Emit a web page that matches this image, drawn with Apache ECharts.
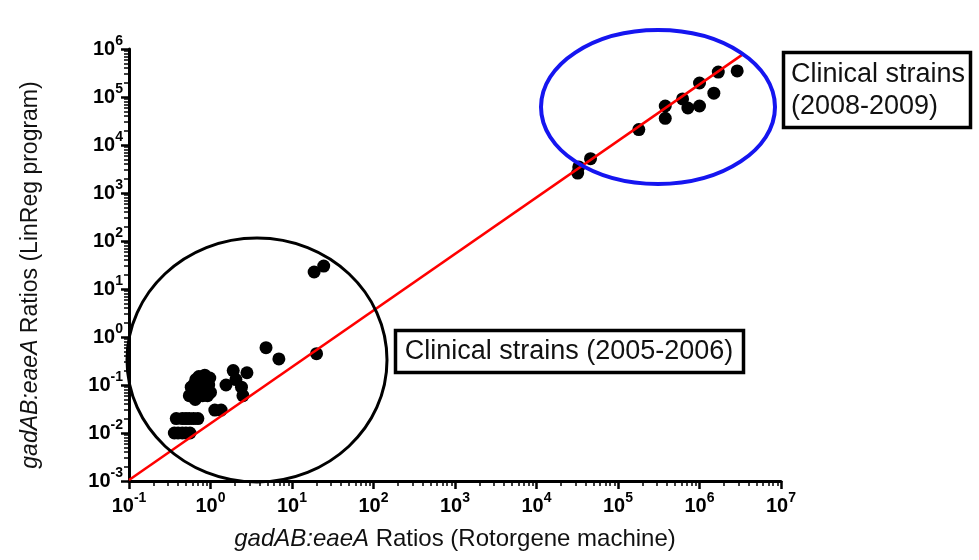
<!DOCTYPE html>
<html>
<head>
<meta charset="utf-8">
<script src="https://cdn.jsdelivr.net/npm/echarts@6/dist/echarts.min.js"></script>
<style>
html,body{margin:0;padding:0;background:#fff;}
#chart{width:979px;height:560px;}
</style>
</head>
<body>
<div id="chart"></div>
<script>
// ---- data ----
// Clinical strains 2005-2006 (lower cluster)
const lowX = [0.36,0.40,0.45,0.50,0.56,
              0.38,0.45,0.50,0.55,0.62,0.70,
              1.13,1.35,
              0.55,0.60,0.62,0.65,0.70,0.70,0.72,0.75,0.78,0.80,0.82,0.85,0.88,0.90,0.95,0.98,1.00,0.66,0.58,0.92,
              1.9,2.8,1.55,2.05,2.4,2.5,4.8,6.9,20,18.7,24.5];
const lowY = [0.01,0.01,0.01,0.01,0.01,
              0.02,0.02,0.02,0.02,0.02,0.02,
              0.03,0.03,
              0.06,0.08,0.10,0.05,0.12,0.07,0.15,0.09,0.13,0.06,0.10,0.16,0.08,0.12,0.10,0.14,0.07,0.13,0.09,0.06,
              0.20,0.18,0.10,0.13,0.09,0.06,0.60,0.35,0.45,22.6,30];
// Clinical strains 2008-2009 (upper cluster)
const highX = [3.2e4,3.3e4,4.6e4,1.8e5,3.8e5,3.8e5,6.2e5,7.2e5,1.0e6,1.0e6,1.5e6,1.7e6,2.9e6];
const highY = [2.6e3,3.5e3,5.2e3,2.1e4,6.5e4,3.6e4,9.1e4,5.9e4,6.5e4,1.96e5,1.2e5,3.3e5,3.5e5];
// regression line end points
const fitX = [0.1, 3.5e6];
const fitY = [0.00105, 8.0e5];
// tick labels (powers of ten)
const xTickExps = [-1,0,1,2,3,4,5,6,7];
const yTickExps = [-3,-2,-1,0,1,2,3,4,5,6];
const minorMult = [2,3,4,5,6,7,8,9];

const xTitle = '{i|gadAB:eaeA} Ratios (Rotorgene machine)';
const yTitle = '{i|gadAB:eaeA} Ratios (LinReg program)';
const note1 = 'Clinical strains (2005-2006)';
const note2 = 'Clinical strains\n(2008-2009)';

// ---- build ----
const FONT = 'Liberation Sans, Arial, Helvetica, sans-serif';
const zip = (a, b) => a.map((v, i) => [v, b[i]]);
const majors = e => e.map(ex => Math.pow(10, ex));
function minors(exps) {
  const out = [];
  for (let k = 0; k < exps.length - 1; k++) {
    for (const m of minorMult) out.push(m * Math.pow(10, exps[k]));
  }
  return out;
}
const expLabel = v => '{b|10}{s|' + Math.round(Math.log10(v)) + '}';
const labelRich = {
  b: {fontFamily: FONT, fontSize: 20, fontWeight: 'bold', color: '#000', lineHeight: 30},
  s: {fontFamily: FONT, fontSize: 14, fontWeight: 'bold', color: '#000', verticalAlign: 'top', lineHeight: 10}
};

function makeAxis(kind, exps, main) {
  const ax = {
    type: 'log', logBase: 10,
    position: kind === 'x' ? 'bottom' : 'left',
    offset: 0,
    min: Math.pow(10, exps[0]), max: Math.pow(10, exps[exps.length - 1]),
    splitLine: {show: false},
    axisLine: {show: main, lineStyle: {color: '#000', width: 3}},
    axisTick: {
      show: true, inside: false,
      length: main ? 8 : 5,
      lineStyle: {color: '#000', width: main ? 2.5 : 1.5},
      customValues: main ? majors(exps) : minors(exps)
    },
    axisLabel: main ? {
      show: true, customValues: majors(exps), formatter: expLabel,
      rich: labelRich, margin: kind === 'x' ? 10 : 6
    } : {show: false}
  };
  if (main) {
    const fs = kind === 'x' ? 24 : 23;
    ax.name = kind === 'x' ? xTitle : yTitle;
    ax.nameLocation = 'middle';
    ax.nameGap = kind === 'x' ? 46 : 87;
    ax.nameTextStyle = {
      fontFamily: FONT, fontSize: fs, color: '#111',
      padding: kind === 'x' ? 0 : [0, 20, 0, 0],
      rich: {i: {fontFamily: FONT, fontSize: fs, fontStyle: 'italic', color: '#111'}}
    };
  }
  return ax;
}

const chart = echarts.init(document.getElementById('chart'));
chart.setOption({
  animation: false,
  backgroundColor: '#fff',
  grid: {left: 129, right: 198, top: 49, bottom: 79, containLabel: false},
  xAxis: [makeAxis('x', xTickExps, true), makeAxis('x', xTickExps, false)],
  yAxis: [makeAxis('y', yTickExps, true), makeAxis('y', yTickExps, false)],
  series: [
    {type: 'scatter', name: '2005-2006', data: zip(lowX, lowY), symbol: 'circle', symbolSize: 13,
     itemStyle: {color: '#000', opacity: 1}, z: 3},
    {type: 'scatter', name: '2008-2009', data: zip(highX, highY), symbol: 'circle', symbolSize: 13,
     itemStyle: {color: '#000', opacity: 1}, z: 3},
    {type: 'line', name: 'fit', data: zip(fitX, fitY), showSymbol: false, symbol: 'none',
     lineStyle: {color: '#f00', width: 2.5}, z: 4}
  ],
  graphic: [
    {type: 'ellipse', shape: {cx: 257, cy: 360, rx: 130, ry: 122},
     style: {fill: 'none', stroke: '#000', lineWidth: 3}, z: 10},
    {type: 'ellipse', shape: {cx: 658, cy: 107, rx: 117, ry: 77},
     style: {fill: 'none', stroke: '#1515f0', lineWidth: 4}, z: 10},
    {type: 'rect', shape: {x: 395.5, y: 330.5, width: 348, height: 42},
     style: {fill: '#fff', stroke: '#000', lineWidth: 3.5}, z: 11},
    {type: 'text', x: 569, y: 352,
     style: {text: note1, fontFamily: FONT, fontSize: 27, fill: '#111', align: 'center', verticalAlign: 'middle'}, z: 12},
    {type: 'rect', shape: {x: 783.5, y: 52.5, width: 187, height: 75},
     style: {fill: '#fff', stroke: '#000', lineWidth: 3.5}, z: 11},
    {type: 'text', x: 791, y: 91,
     style: {text: note2, fontFamily: FONT, fontSize: 27, lineHeight: 32, fill: '#111', align: 'left', verticalAlign: 'middle'}, z: 12}
  ]
});
</script>
</body>
</html>
